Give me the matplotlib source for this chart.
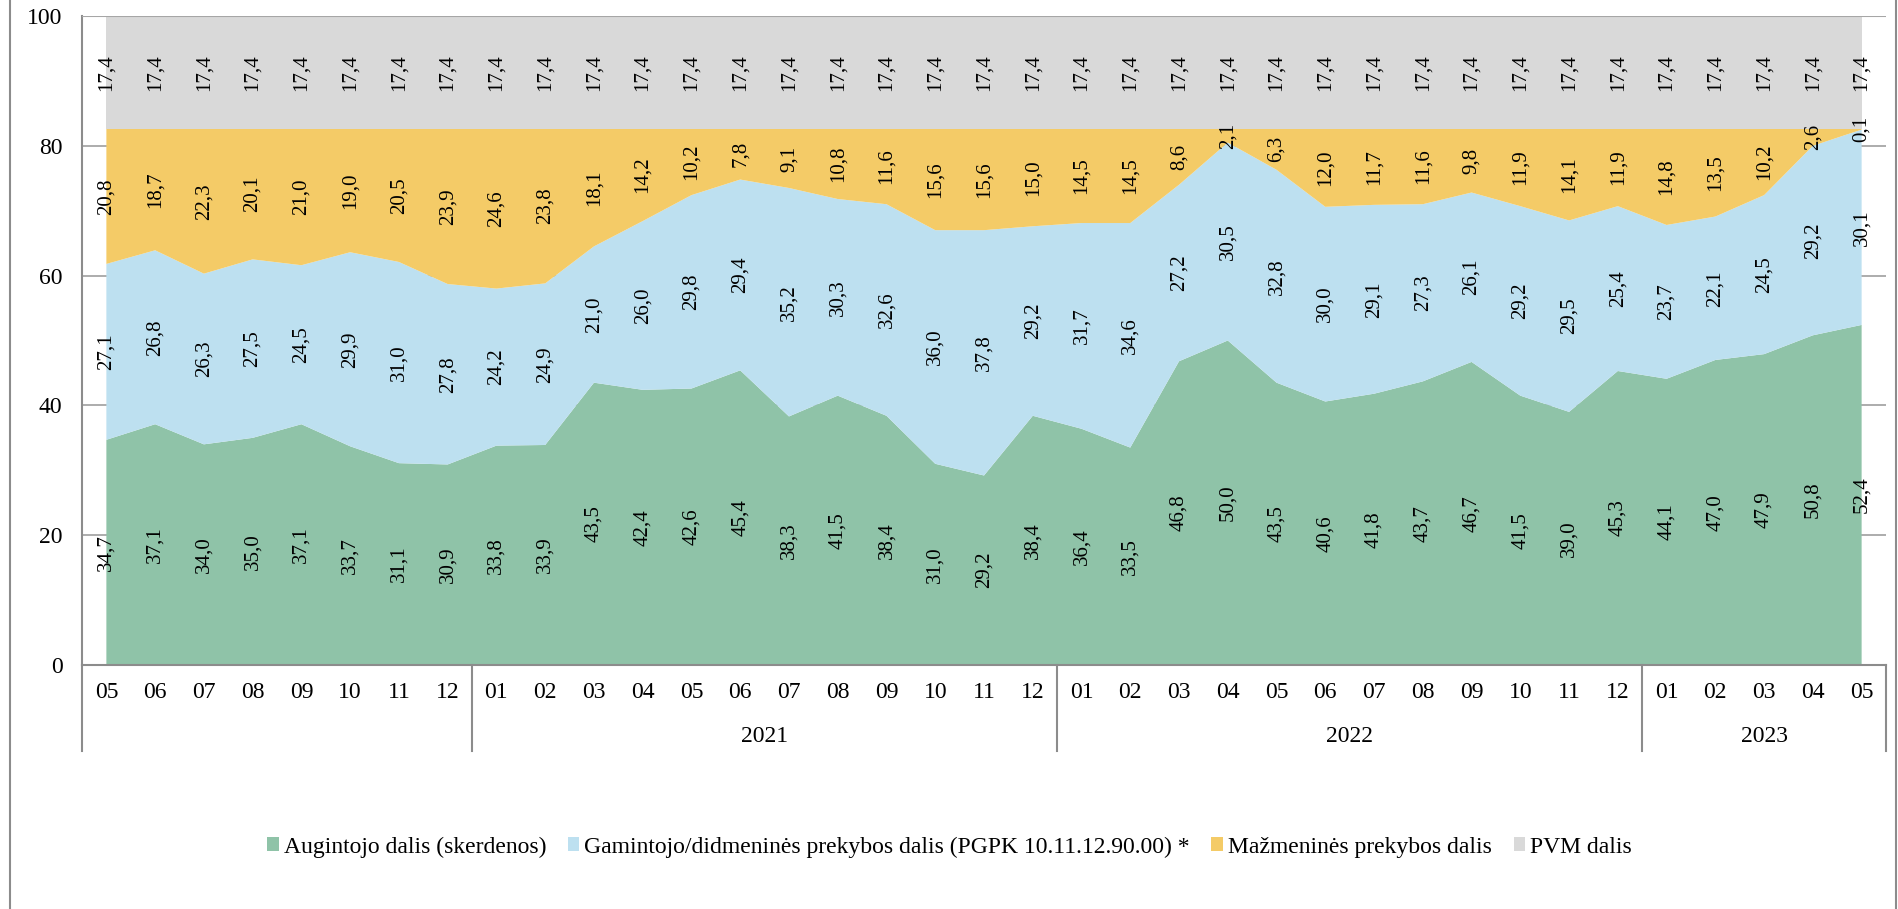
import matplotlib
matplotlib.use("Agg")
import matplotlib.pyplot as plt
from matplotlib.patches import Patch
from matplotlib.lines import Line2D
import numpy as np

plt.rcParams['font.family'] = ['Liberation Serif', 'DejaVu Serif']

months = ["05", "06", "07", "08", "09", "10", "11", "12",
          "01", "02", "03", "04", "05", "06", "07", "08", "09", "10", "11", "12",
          "01", "02", "03", "04", "05", "06", "07", "08", "09", "10", "11", "12",
          "01", "02", "03", "04", "05"]
years = ["", "2021", "2022", "2023"]
year_sizes = [8, 12, 12, 5]

augintojo = [34.7, 37.1, 34.0, 35.0, 37.1, 33.7, 31.1, 30.9, 33.8, 33.9, 43.5, 42.4,
             42.6, 45.4, 38.3, 41.5, 38.4, 31.0, 29.2, 38.4, 36.4, 33.5, 46.8, 50.0,
             43.5, 40.6, 41.8, 43.7, 46.7, 41.5, 39.0, 45.3, 44.1, 47.0, 47.9, 50.8, 52.4]
gamintojo = [27.1, 26.8, 26.3, 27.5, 24.5, 29.9, 31.0, 27.8, 24.2, 24.9, 21.0, 26.0,
             29.8, 29.4, 35.2, 30.3, 32.6, 36.0, 37.8, 29.2, 31.7, 34.6, 27.2, 30.5,
             32.8, 30.0, 29.1, 27.3, 26.1, 29.2, 29.5, 25.4, 23.7, 22.1, 24.5, 29.2, 30.1]
mazmenines = [20.8, 18.7, 22.3, 20.1, 21.0, 19.0, 20.5, 23.9, 24.6, 23.8, 18.1, 14.2,
              10.2, 7.8, 9.1, 10.8, 11.6, 15.6, 15.6, 15.0, 14.5, 14.5, 8.6, 2.1,
              6.3, 12.0, 11.7, 11.6, 9.8, 11.9, 14.1, 11.9, 14.8, 13.5, 10.2, 2.6, 0.1]
pvm = [17.4] * 37

series_names = ["Augintojo dalis (skerdenos)",
                "Gamintojo/didmeninės prekybos dalis (PGPK 10.11.12.90.00) *",
                "Mažmeninės prekybos dalis",
                "PVM dalis"]
colors = ["#8fc3a8", "#bde0f0", "#f4cb67", "#d9d9d9"]

W, H = 1899, 909
fig = plt.figure(figsize=(W / 100, H / 100), dpi=100)
ax = fig.add_axes([82 / W, 1 - 665 / H, (1886 - 82) / W, (665 - 16) / H])

x = np.arange(len(months))
data = [augintojo, gamintojo, mazmenines, pvm]
ax.stackplot(x, *data, colors=colors, linewidth=0, zorder=2)

ax.set_xlim(-0.5, len(months) - 0.5)
ax.set_ylim(0, 100)
ax.set_yticks([0, 20, 40, 60, 80, 100])
ax.yaxis.grid(True, color="#a6a6a6", linewidth=1.3, zorder=0)
ax.set_axisbelow(True)

spine_c = "#8c8c8c"
for s in ["top", "right"]:
    ax.spines[s].set_visible(False)
ax.spines["left"].set_color(spine_c)
ax.spines["bottom"].set_color(spine_c)
ax.spines["left"].set_linewidth(1.5)
ax.spines["bottom"].set_linewidth(1.5)
ax.spines["bottom"].set_zorder(5)
ax.axhline(100, color="#a6a6a6", linewidth=1.5, zorder=4)

ax.tick_params(axis="y", length=0, pad=14, labelsize=17)
ax.set_xticks(x)
ax.set_xticklabels(months)
ax.tick_params(axis="x", length=0, pad=12, labelsize=17)

# data labels
bottom = np.zeros(len(months))
for vals in data:
    v = np.array(vals)
    for i in range(len(months)):
        ax.text(x[i], bottom[i] + v[i] / 2, f"{v[i]:.1f}".replace(".", ","),
                rotation=90, ha="center", va="center", fontsize=15,
                color="black", zorder=6, rotation_mode="anchor")
    bottom = bottom + v

# multi-level axis: separators and year labels
trans = ax.get_xaxis_transform()
sep_bottom = -(751 - 665) / (665 - 16)
year_y = -(736 - 665) / (665 - 16)
start = 0
bounds = [-0.5]
for yr, n in zip(years, year_sizes):
    end = start + n
    bounds.append(end - 0.5)
    if yr:
        ax.text((start + end - 1) / 2, year_y, yr, transform=trans,
                ha="center", va="center", fontsize=17)
    start = end
for b in bounds:
    ax.add_line(Line2D([b, b], [0, sep_bottom], transform=trans, color=spine_c,
                       linewidth=1.5, clip_on=False))

# figure border lines
fig.add_artist(Line2D([10 / W, 10 / W], [0, 1], transform=fig.transFigure,
                      color="#8c8c8c", linewidth=1.5))
fig.add_artist(Line2D([1896 / W, 1896 / W], [0, 1], transform=fig.transFigure,
                      color="#8c8c8c", linewidth=1.5))

handles = [Patch(facecolor=c, edgecolor="none") for c in colors]
fig.legend(handles, series_names, loc="center", bbox_to_anchor=(0.5, 1 - 847 / H),
           ncol=4, frameon=False, fontsize=17, handlelength=0.5, handleheight=0.5,
           handletextpad=0.22, columnspacing=0.9)

fig.savefig("out.png", dpi=100)
